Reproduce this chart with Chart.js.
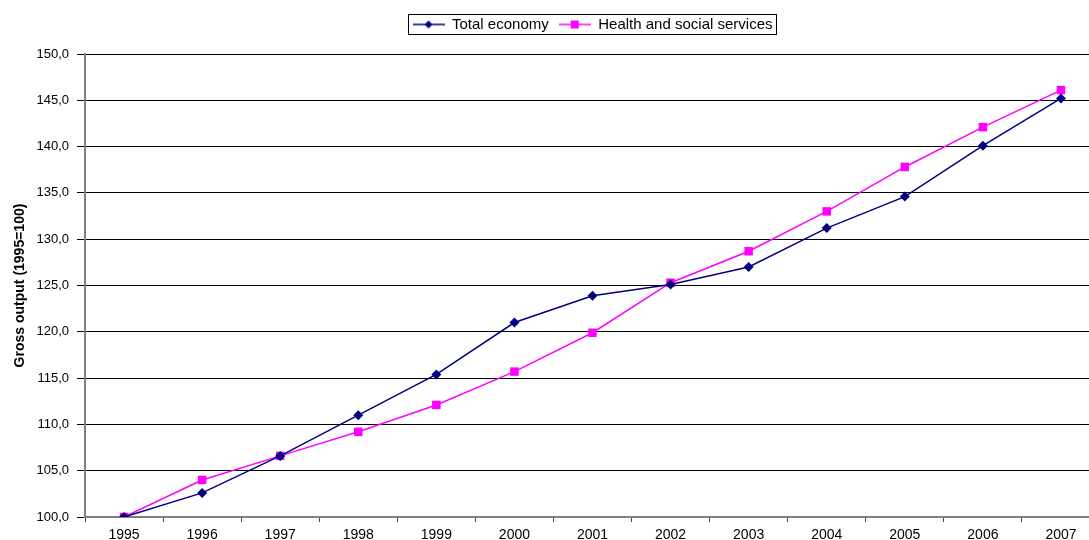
<!DOCTYPE html>
<html>
<head>
<meta charset="utf-8">
<script src="https://cdn.jsdelivr.net/npm/chart.js@4.4.1/dist/chart.umd.min.js"></script>
<style>
html,body{margin:0;padding:0;background:#fff;overflow:hidden;}
#wrap{width:1089px;height:540px;overflow:hidden;}
#box{width:1106px;height:540px;}
</style>
</head>
<body>
<div id="wrap"><div id="box"><canvas id="outputChart"></canvas></div></div>
<script>
//years on x axis
const years = ["1995","1996","1997","1998","1999","2000","2001","2002","2003","2004","2005","2006","2007"];
//index values (1995=100)
const totalEconomy = [100.0,102.6,106.6,111.0,115.4,121.0,123.9,125.1,127.0,131.2,134.6,140.1,145.2];
const healthSocial = [100.0,104.0,106.6,109.2,112.1,115.7,119.9,125.3,128.7,133.0,137.8,142.1,146.1];
//y axis range
const yMin = 100, yMax = 150, yStep = 5;

const navy = "#000080";
const magenta = "#ff00ff";

//small legend icon: line with marker in the middle
function legendIcon(color, shape) {
  const c = document.createElement("canvas");
  c.width = 32; c.height = 12;
  const g = c.getContext("2d");
  g.strokeStyle = color;
  g.lineWidth = 1.5;
  g.beginPath(); g.moveTo(0, 6); g.lineTo(32, 6); g.stroke();
  g.fillStyle = color;
  if (shape === "diamond") {
    g.beginPath(); g.moveTo(16, 2); g.lineTo(20, 6); g.lineTo(16, 10); g.lineTo(12, 6); g.closePath(); g.fill();
  } else {
    g.fillRect(12, 2, 8, 8);
  }
  return c;
}
const icons = [legendIcon(navy, "diamond"), legendIcon(magenta, "square")];

//move the legend up a bit and draw a border round it
const legendBorder = {
  id: "legendBorder",
  afterLayout(chart) {
    const lg = chart.legend;
    if (!lg) return;
    lg.top -= 12;
    lg.bottom -= 12;
  },
  afterDraw(chart) {
    const hb = chart.legend && chart.legend.legendHitBoxes;
    if (!hb || !hb.length) return;
    const first = hb[0], last = hb[hb.length - 1];
    const g = chart.ctx;
    g.save();
    g.strokeStyle = "#000";
    g.lineWidth = 1;
    const x0 = Math.round(first.left) - 4.5;
    const x1 = Math.round(last.left + last.width) + 4.5;
    const y0 = Math.round(first.top) - 2.5;
    const y1 = Math.round(first.top + first.height) + 2.5;
    g.strokeRect(x0, y0, x1 - x0, y1 - y0);
    g.restore();
  }
};

const font = "'Liberation Sans', Arial, sans-serif";

new Chart(document.getElementById("outputChart"), {
  type: "line",
  data: {
    labels: years,
    datasets: [{
      label: "Total economy",
      data: totalEconomy,
      borderColor: navy,
      backgroundColor: navy,
      borderWidth: 1.5,
      pointStyle: "rectRot",
      pointRadius: 5,
      pointBorderWidth: 0,
      tension: 0
    }, {
      label: "Health and social services",
      data: healthSocial,
      borderColor: magenta,
      backgroundColor: magenta,
      borderWidth: 1.5,
      pointStyle: "rect",
      pointRadius: 6,
      pointBorderWidth: 0,
      tension: 0
    }]
  },
  options: {
    responsive: true,
    maintainAspectRatio: false,
    animation: false,
    layout: { padding: { top: 6, right: 1, left: 0, bottom: 0 } },
    plugins: {
      legend: {
        position: "top",
        fullSize: false,
        labels: {
          usePointStyle: true,
          pointStyleWidth: 32,
          padding: 10,
          color: "#000",
          font: { family: font, size: 15 },
          generateLabels: chart => chart.data.datasets.map((ds, i) => ({
            text: ds.label,
            pointStyle: icons[i],
            datasetIndex: i,
            fontColor: "#000",
            hidden: false,
            lineWidth: 0
          }))
        }
      },
      tooltip: { enabled: false }
    },
    scales: {
      x: {
        offset: true,
        grid: { drawOnChartArea: false, offset: true, tickLength: 5, color: "#444" },
        border: { color: "#808080", width: 2 },
        ticks: { color: "#000", font: { family: font, size: 14 }, padding: 5, maxRotation: 0 },
        afterFit: s => { s.height = 23; }
      },
      y: {
        min: yMin,
        max: yMax,
        grid: { color: "#000", lineWidth: 1, tickLength: 8 },
        border: { color: "#808080", width: 2 },
        ticks: {
          stepSize: yStep,
          color: "#000",
          padding: 8,
          font: { family: font, size: 13 },
          callback: v => v.toFixed(1).replace(".", ",")
        },
        title: {
          display: true,
          text: "Gross output (1995=100)",
          color: "#000",
          font: { family: font, size: 14, weight: "bold" },
          padding: { top: 12, bottom: 0 }
        },
        afterFit: s => { s.width = 85; s.paddingTop = 54; }
      }
    }
  },
  plugins: [legendBorder]
});
</script>
</body>
</html>
